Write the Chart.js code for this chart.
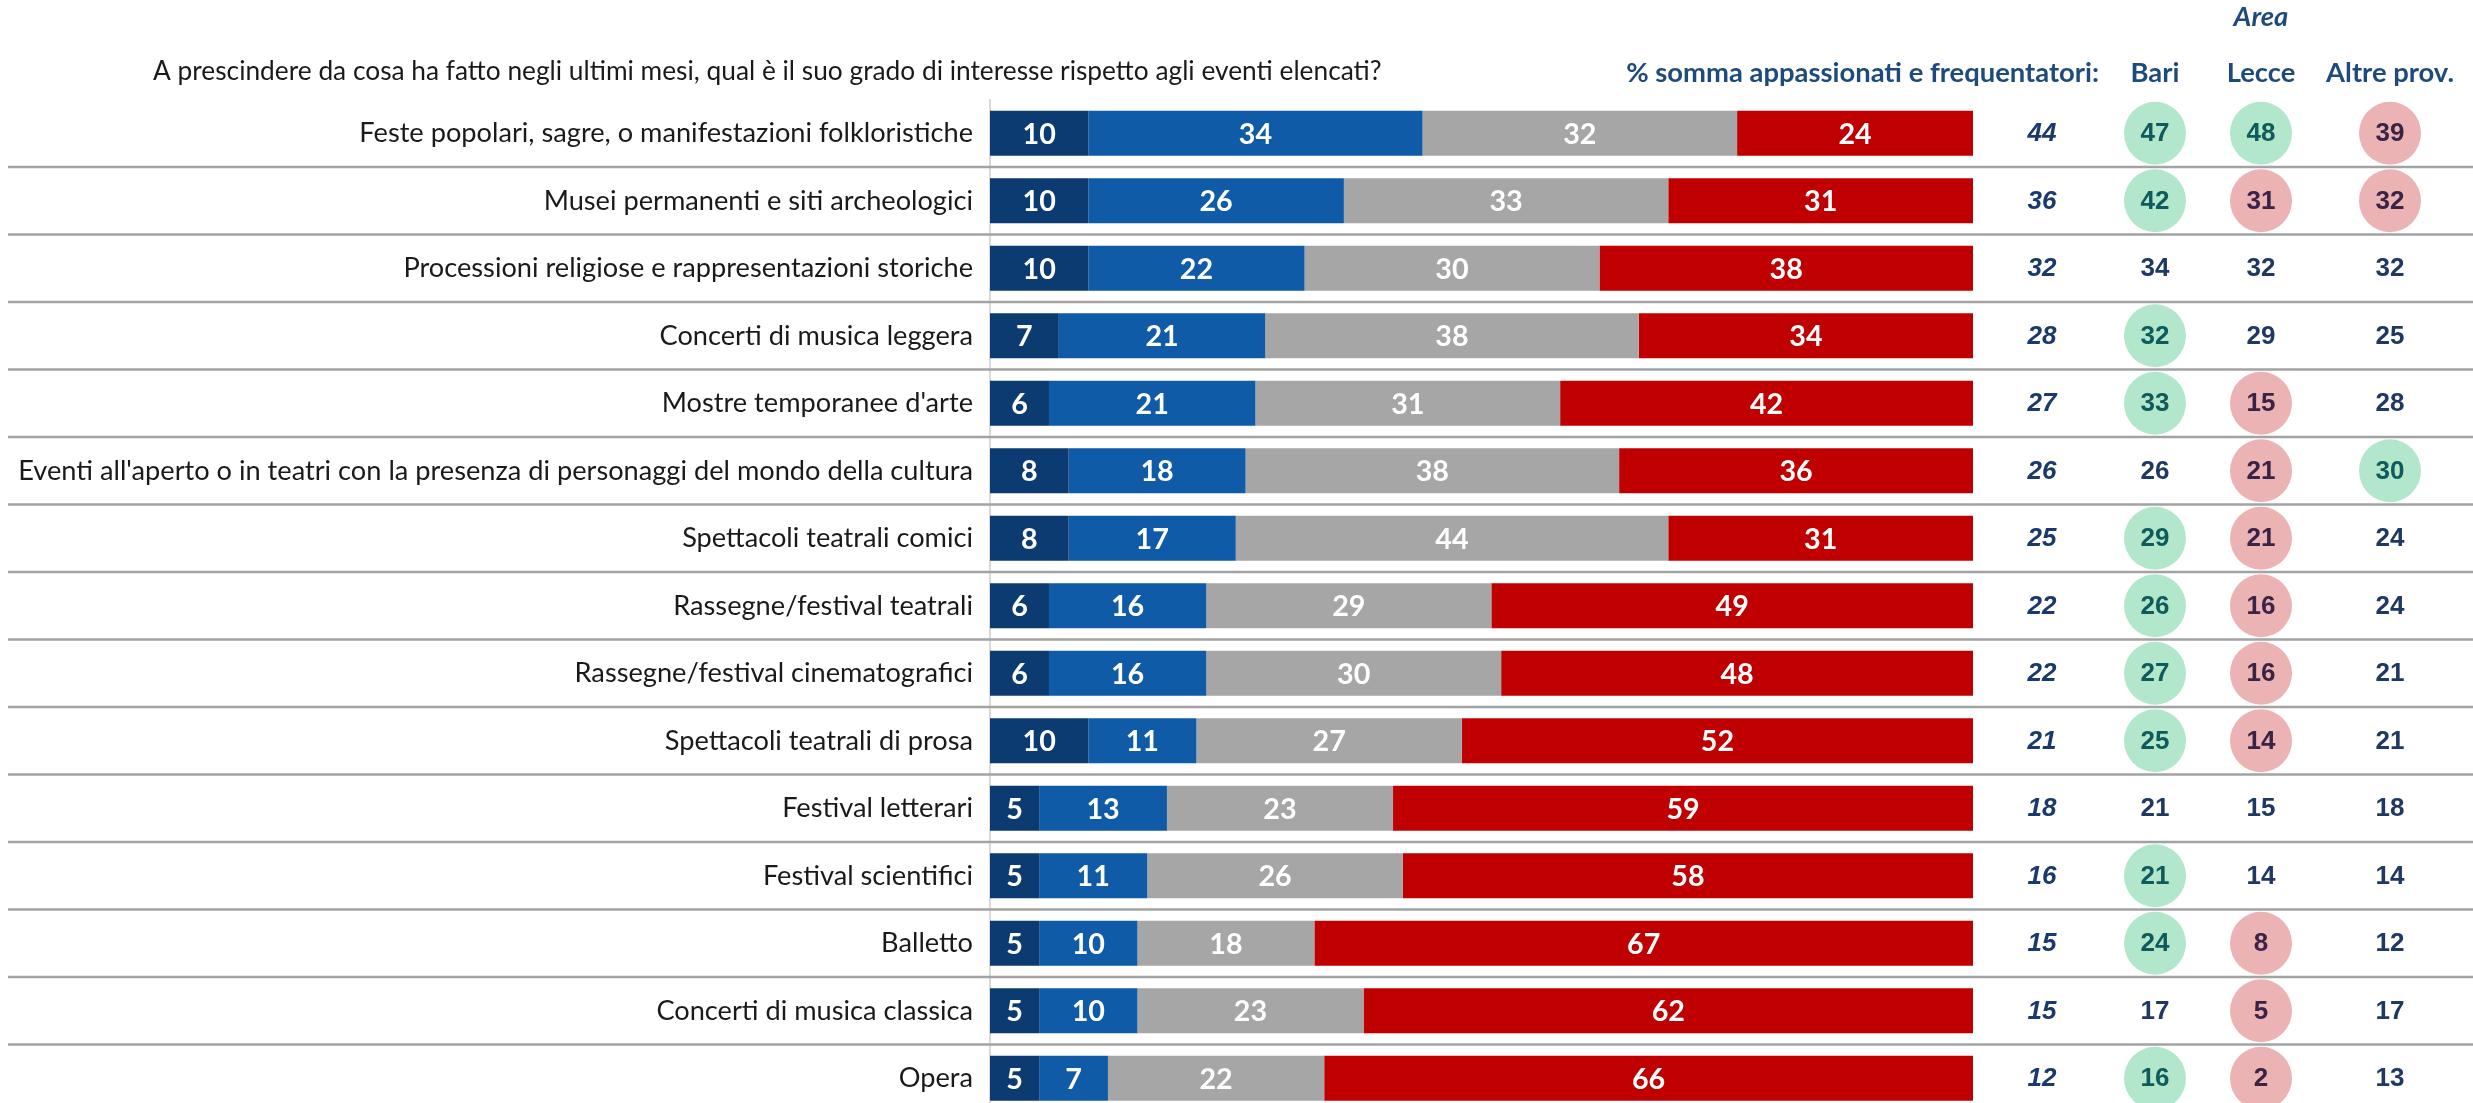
<!DOCTYPE html>
<html>
<head>
<meta charset="utf-8">
<script src="https://cdn.jsdelivr.net/npm/chart.js@4.4.1/dist/chart.umd.min.js"></script>
<style>
  html, body { margin: 0; padding: 0; background: #fff; overflow: hidden; }
  /* the last row runs past the bottom edge, as in the picture */
  #wrap { width: 2473px; height: 1103px; overflow: hidden; }
  #box { position: relative; width: 2473px; height: 1112px; }
</style>
</head>
<body>
<div id="wrap"><div id="box"><canvas id="chart"></canvas></div></div>
<script>
// data
const categories = [
  'Feste popolari, sagre, o manifestazioni folkloristiche',
  'Musei permanenti e siti archeologici',
  'Processioni religiose e rappresentazioni storiche',
  'Concerti di musica leggera',
  "Mostre temporanee d'arte",
  "Eventi all'aperto o in teatri con la presenza di personaggi del mondo della cultura",
  'Spettacoli teatrali comici',
  'Rassegne/festival teatrali',
  'Rassegne/festival cinematografici',
  'Spettacoli teatrali di prosa',
  'Festival letterari',
  'Festival scientifici',
  'Balletto',
  'Concerti di musica classica',
  'Opera'
];
const appassionati = [10, 10, 10, 7, 6, 8, 8, 6, 6, 10, 5, 5, 5, 5, 5];
const frequentatori = [34, 26, 22, 21, 21, 18, 17, 16, 16, 11, 13, 11, 10, 10, 7];
const pocoInteressati = [32, 33, 30, 38, 31, 38, 44, 29, 30, 27, 23, 26, 18, 23, 22];
const nonInteressati = [24, 31, 38, 34, 42, 36, 31, 49, 48, 52, 59, 58, 67, 62, 66];
const sommaAppFreq = [44, 36, 32, 28, 27, 26, 25, 22, 22, 21, 18, 16, 15, 15, 12];
const areaColumns = ['Bari', 'Lecce', 'Altre prov.'];
const bari = [47, 42, 34, 32, 33, 26, 29, 26, 27, 25, 21, 21, 24, 17, 16];
const lecce = [48, 31, 32, 29, 15, 21, 21, 16, 16, 14, 15, 14, 8, 5, 2];
const altreProv = [39, 32, 32, 25, 28, 30, 24, 24, 21, 21, 18, 14, 12, 17, 13];
// g = above average (green circle), r = below average (red circle)
const bariMark = ['g', 'g', '', 'g', 'g', '', 'g', 'g', 'g', 'g', '', 'g', 'g', '', 'g'];
const lecceMark = ['g', 'r', '', '', 'r', 'r', 'r', 'r', 'r', 'r', '', '', 'r', 'r', 'r'];
const altreMark = ['r', 'r', '', '', '', 'g', '', '', '', '', '', '', '', '', ''];

const questionText = 'A prescindere da cosa ha fatto negli ultimi mesi, qual è il suo grado di interesse rispetto agli eventi elencati?';
const sumHeader = '% somma appassionati e frequentatori:';

const family = 'Lato, "Open Sans", sans-serif';
const arial = '"Liberation Sans", Arial, sans-serif';

// size the text so it takes the same width as in the picture
const mctx = document.createElement('canvas').getContext('2d');
function fitSize(text, weight, target, max) {
  mctx.font = weight + ' 100px ' + family;
  const w = mctx.measureText(text).width;
  return Math.min(max, Math.floor(100 * target / w * 10) / 10);
}
const labelSize = fitSize(categories[5], 'normal', 958, 28);
const titleSize = fitSize(questionText, 'normal', 1229, 28);
const headSize = fitSize(sumHeader, 'bold', 473, 28);

const colX = { sum: 2042, bari: 2155, lecce: 2261, altre: 2390 };

const tablePlugin = {
  id: 'tablePlugin',
  afterDatasetsDraw(chart) {
    const ctx = chart.ctx;
    const y = chart.scales.y;
    ctx.save();

    // numbers inside the bars
    ctx.font = 'bold ' + (labelSize + 1.5) + 'px ' + family;
    ctx.fillStyle = '#fff';
    ctx.textAlign = 'center';
    ctx.textBaseline = 'middle';
    chart.data.datasets.forEach((ds, di) => {
      chart.getDatasetMeta(di).data.forEach((bar, i) => {
        ctx.fillText(String(ds.data[i]), (bar.x + bar.base) / 2, bar.y + 1);
      });
    });

    // row separators across the full width
    ctx.strokeStyle = '#a3a3a3';
    ctx.lineWidth = 2.5;
    for (let i = 0; i < categories.length - 1; i++) {
      const yy = (y.getPixelForValue(i) + y.getPixelForValue(i + 1)) / 2;
      ctx.beginPath();
      ctx.moveTo(8, yy);
      ctx.lineTo(chart.width, yy);
      ctx.stroke();
    }

    // header texts
    ctx.fillStyle = '#1a1a1a';
    ctx.textAlign = 'left';
    ctx.font = titleSize + 'px ' + family;
    ctx.fillText(questionText, 153, 72);

    ctx.fillStyle = '#1f4a7c';
    ctx.textAlign = 'right';
    ctx.font = 'bold ' + headSize + 'px ' + family;
    ctx.fillText(sumHeader, 2099, 73);
    ctx.textAlign = 'center';
    const areaX = [colX.bari, colX.lecce, colX.altre];
    areaColumns.forEach((name, k) => ctx.fillText(name, areaX[k], 73));
    ctx.font = 'italic bold ' + headSize + 'px ' + family;
    ctx.fillText('Area', colX.lecce, 17);

    // right-hand table
    const cols = [[bari, bariMark], [lecce, lecceMark], [altreProv, altreMark]];
    for (let i = 0; i < categories.length; i++) {
      const yy = y.getPixelForValue(i);
      ctx.font = 'italic bold 26px ' + arial;
      ctx.fillStyle = '#1a3a6b';
      ctx.fillText(String(sommaAppFreq[i]), colX.sum, yy + 1);
      cols.forEach(([vals, marks], k) => {
        const m = marks[i];
        if (m) {
          ctx.beginPath();
          ctx.ellipse(areaX[k], yy, 31, 31.5, 0, 0, Math.PI * 2);
          ctx.fillStyle = m === 'g' ? '#b3e7cb' : '#ebb3b3';
          ctx.fill();
        }
        ctx.font = 'bold 26px ' + arial;
        ctx.fillStyle = m === 'g' ? '#0f5a5c' : (m === 'r' ? '#3a2446' : '#1f3864');
        ctx.fillText(String(vals[i]), areaX[k], yy + 1);
      });
    }
    ctx.restore();
  }
};

const ctx = document.getElementById('chart').getContext('2d');
const chart = new Chart(ctx, {
  type: 'bar',
  data: {
    labels: categories,
    datasets: [
      { label: 'Appassionati', data: appassionati, backgroundColor: '#0c3b71' },
      { label: 'Frequentatori', data: frequentatori, backgroundColor: '#0f5ba7' },
      { label: 'Interessati', data: pocoInteressati, backgroundColor: '#a6a6a6' },
      { label: 'Non interessati', data: nonInteressati, backgroundColor: '#c00000' }
    ]
  },
  options: {
    indexAxis: 'y',
    responsive: true,
    maintainAspectRatio: false,
    animation: false,
    layout: { padding: { top: 99.5, bottom: 0, left: 0, right: 500 } },
    datasets: { bar: { barPercentage: 0.667, categoryPercentage: 1, borderWidth: 0 } },
    plugins: {
      legend: { display: false },
      tooltip: { enabled: false }
    },
    scales: {
      x: { stacked: true, min: 0, max: 100, display: false },
      y: {
        stacked: true,
        offset: true,
        afterFit: (scale) => {
          scale.width = 990;
          scale.paddingTop = 0;
          scale.paddingBottom = 0;
        },
        grid: { display: false, drawTicks: false },
        border: { display: true, color: '#d9d9d9', width: 2 },
        ticks: {
          padding: 17,
          color: '#1a1a1a',
          font: { family: family, size: labelSize }
        }
      }
    }
  },
  plugins: [tablePlugin]
});
</script>
</body>
</html>
